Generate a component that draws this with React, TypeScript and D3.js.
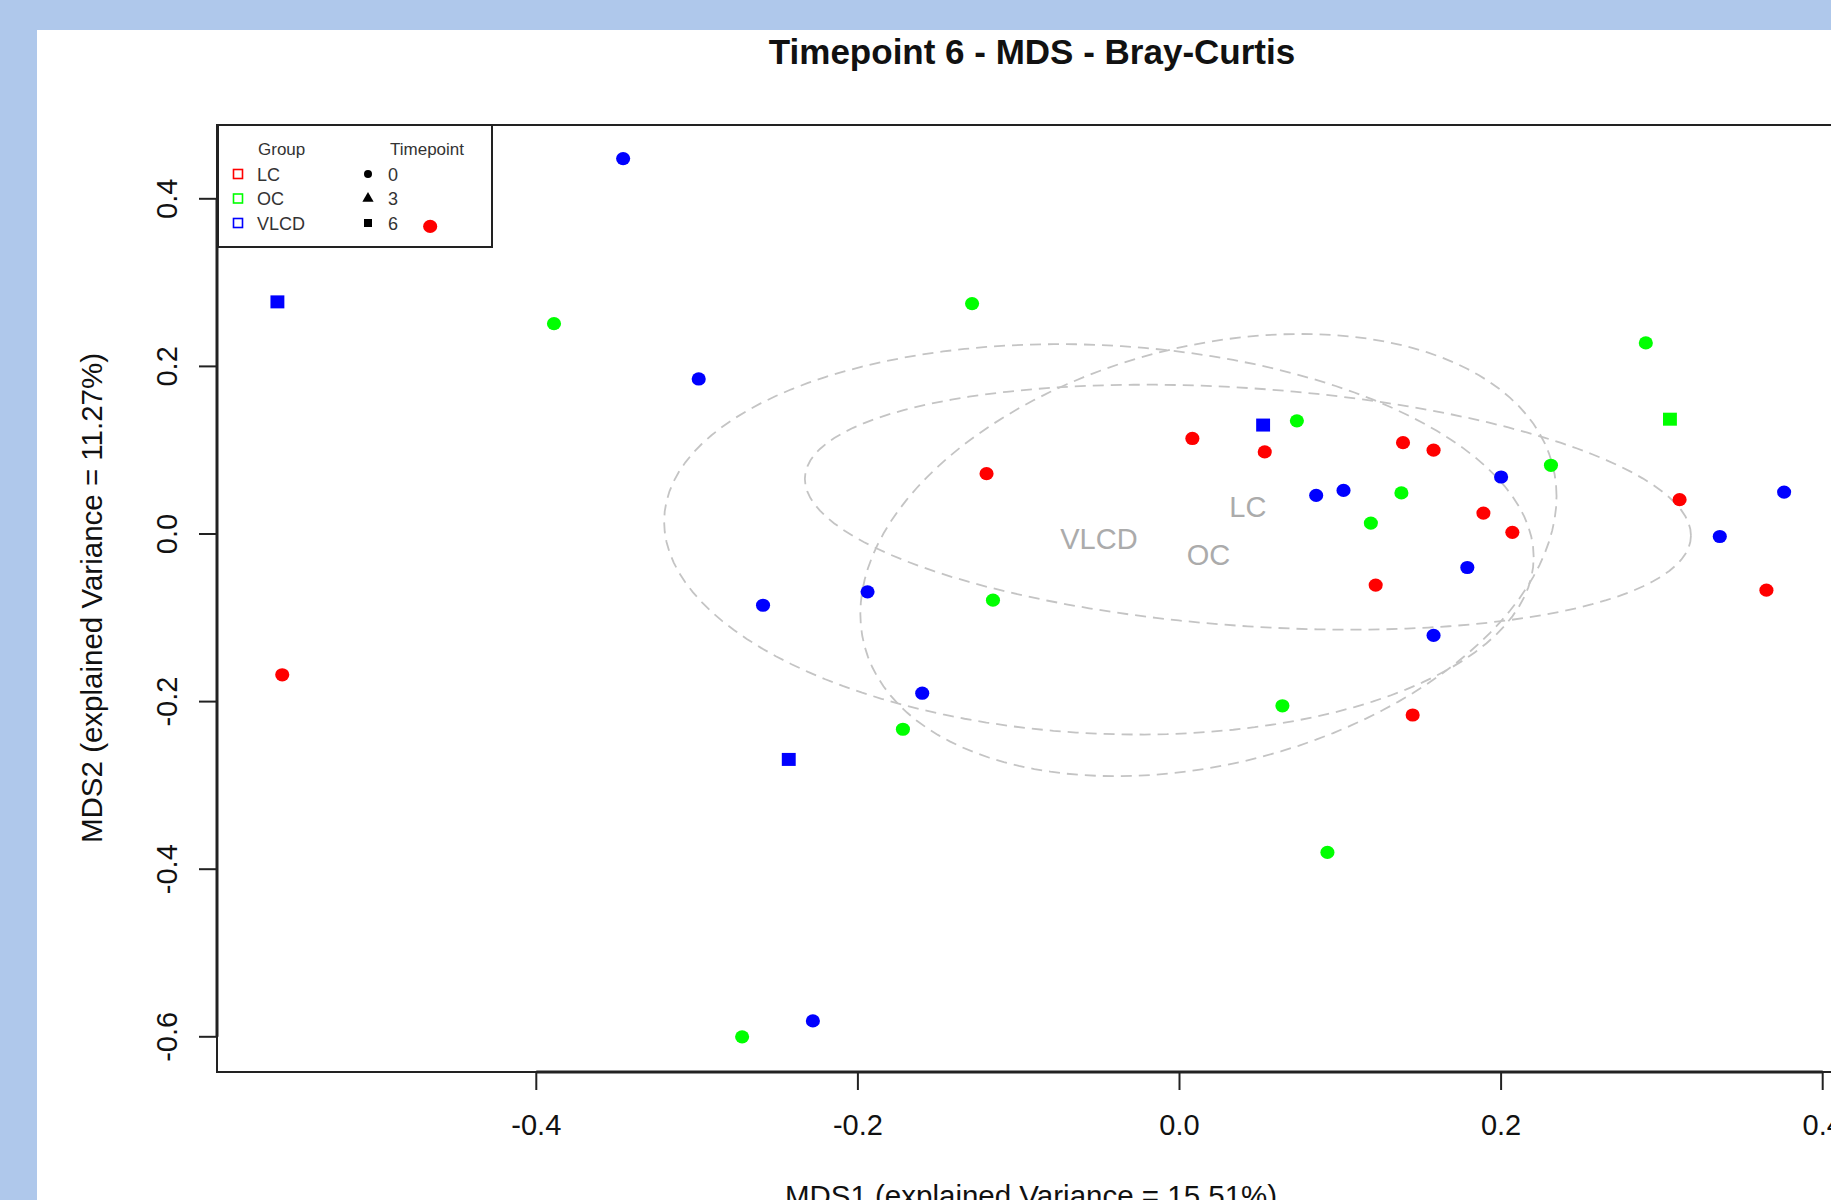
import React from 'react';
import * as d3 from 'd3';

const W = 1831;
const H = 1200;
const FONT = 'Liberation Sans, Arial, Helvetica, sans-serif';

const groupNames = ['LC', 'OC', 'VLCD'];
const groupColors = ['#ff0000', '#00ff00', '#0000ff'];
const timepointNames = ['0', '3', '6'];

// MDS1 / MDS2 per sample
const lcMds1 = [-0.466, 0.008, 0.053, 0.139, 0.158, -0.12, 0.311, 0.189, 0.207, 0.365, 0.122, -0.558, 0.145];
const lcMds2 = [0.367, 0.114, 0.098, 0.109, 0.1, 0.072, 0.041, 0.025, 0.002, -0.067, -0.061, -0.168, -0.216];
const lcTime = [0, 0, 0, 0, 0, 0, 0, 0, 0, 0, 0, 0, 0];

const ocMds1 = [-0.389, -0.129, 0.29, 0.305, 0.073, 0.231, 0.138, 0.119, -0.116, 0.064, -0.172, 0.092, -0.272];
const ocMds2 = [0.251, 0.275, 0.228, 0.137, 0.135, 0.082, 0.049, 0.013, -0.079, -0.205, -0.233, -0.38, -0.6];
const ocTime = [0, 0, 0, 6, 0, 0, 0, 0, 0, 0, 0, 0, 0];

const vlcdMds1 = [-0.346, -0.561, -0.299, 0.052, 0.2, 0.376, 0.085, 0.102, 0.336, 0.179, 0.158, -0.259, -0.194, -0.16, -0.243, -0.228];
const vlcdMds2 = [0.448, 0.277, 0.185, 0.13, 0.068, 0.05, 0.046, 0.052, -0.003, -0.04, -0.121, -0.085, -0.069, -0.19, -0.269, -0.581];
const vlcdTime = [0, 6, 0, 6, 0, 0, 0, 0, 0, 0, 0, 0, 0, 0, 6, 0];

const xTicks = [-0.4, -0.2, 0.0, 0.2, 0.4];
const yTicks = [0.4, 0.2, 0.0, -0.2, -0.4, -0.6];

const groups = [
  { name: groupNames[0], color: groupColors[0], xs: lcMds1, ys: lcMds2, ts: lcTime },
  { name: groupNames[1], color: groupColors[1], xs: ocMds1, ys: ocMds2, ts: ocTime },
  { name: groupNames[2], color: groupColors[2], xs: vlcdMds1, ys: vlcdMds2, ts: vlcdTime },
];

// plot box
const box = { left: 217, top: 125, right: 1845, bottom: 1072 };

const x = d3.scaleLinear().domain([-0.4, 0.4]).range([536.3, 1822.7]);
const y = d3.scaleLinear().domain([0.4, -0.6]).range([198.8, 1036.8]);

const dotCircle = d3.symbol().type(d3.symbolCircle).size(Math.PI * 6.6 * 6.6)();
const dotSquare = d3.symbol().type(d3.symbolSquare).size(13 * 13)();
const legendShapes = [
  d3.symbol().type(d3.symbolCircle).size(Math.PI * 4 * 4)(),
  d3.symbol().type(d3.symbolTriangle).size(55)(),
  d3.symbol().type(d3.symbolSquare).size(64)(),
];

// 1-sd ellipse of each group (like vegan::ordiellipse kind = "sd")
function sdEllipse(xs: number[], ys: number[]) {
  const n = xs.length;
  const mx = d3.mean(xs) as number;
  const my = d3.mean(ys) as number;
  let sxx = 0, sxy = 0, syy = 0;
  for (let i = 0; i < n; i++) {
    sxx += (xs[i] - mx) * (xs[i] - mx);
    sxy += (xs[i] - mx) * (ys[i] - my);
    syy += (ys[i] - my) * (ys[i] - my);
  }
  sxx /= n - 1; sxy /= n - 1; syy /= n - 1;
  const l11 = Math.sqrt(sxx);
  const l21 = sxy / l11;
  const l22 = Math.sqrt(syy - l21 * l21);
  const pts = d3.range(0, 120).map(i => {
    const t = (2 * Math.PI * i) / 120;
    return [mx + l11 * Math.cos(t), my + l21 * Math.cos(t) + l22 * Math.sin(t)] as [number, number];
  });
  const path = d3.line<[number, number]>()
    .x(p => x(p[0]))
    .y(p => y(p[1]))
    .curve(d3.curveLinearClosed)(pts);
  return { path, cx: mx, cy: my };
}

export default function App() {
  const ellipses = groups.map(g => ({ ...sdEllipse(g.xs, g.ys), name: g.name }));

  return (
    <svg width={W} height={H} style={{ position: 'absolute', left: 0, top: 0 }} fontFamily={FONT}>
      <rect x={0} y={0} width={W} height={H} fill="#afc8eb" />
      <rect x={37} y={30} width={W - 37} height={H - 30} fill="#ffffff" />

      <text x={1032} y={64} textAnchor="middle" fontSize={35} fontWeight="bold" fill="#111">
        Timepoint 6 - MDS - Bray-Curtis
      </text>

      {/* group ellipses */}
      {ellipses.map(e => (
        <path key={e.name} d={e.path || ''} fill="none" stroke="#c4c4c4" strokeWidth={1.8} strokeDasharray="11 7" />
      ))}
      {ellipses.map(e => (
        <text key={'l' + e.name} x={x(e.cx)} y={y(e.cy)} textAnchor="middle" dominantBaseline="central"
          fontSize={29} fill="#ababab">{e.name}</text>
      ))}

      {/* box */}
      <rect x={box.left} y={box.top} width={box.right - box.left} height={box.bottom - box.top}
        fill="none" stroke="#222" strokeWidth={2} />

      {/* x axis */}
      <line x1={x(xTicks[0])} x2={x(xTicks[xTicks.length - 1])} y1={box.bottom} y2={box.bottom} stroke="#222" strokeWidth={3} />
      {xTicks.map(v => (
        <g key={'x' + v}>
          <line x1={x(v)} x2={x(v)} y1={box.bottom} y2={box.bottom + 18} stroke="#222" strokeWidth={2} />
          <text x={x(v)} y={1135} textAnchor="middle" fontSize={29} fill="#111">{v.toFixed(1)}</text>
        </g>
      ))}
      <text x={1031} y={1206} textAnchor="middle" fontSize={29.5} fill="#111">
        MDS1 (explained Variance = 15.51%)
      </text>

      {/* y axis */}
      <line x1={box.left} x2={box.left} y1={y(yTicks[0])} y2={y(yTicks[yTicks.length - 1])} stroke="#222" strokeWidth={3} />
      {yTicks.map(v => (
        <g key={'y' + v}>
          <line x1={box.left - 18} x2={box.left} y1={y(v)} y2={y(v)} stroke="#222" strokeWidth={2} />
          <text transform={`translate(177,${y(v)}) rotate(-90)`} textAnchor="middle" fontSize={29} fill="#111">
            {v.toFixed(1)}
          </text>
        </g>
      ))}
      <text transform={`translate(102,598) rotate(-90)`} textAnchor="middle" fontSize={29.5} fill="#111">
        MDS2 (explained Variance = 11.27%)
      </text>

      {/* legend */}
      <g>
        <rect x={218} y={125} width={274} height={122} fill="none" stroke="#222" strokeWidth={2} />
        <text x={258} y={155} fontSize={17} fill="#333">Group</text>
        <text x={390} y={155} fontSize={17} fill="#333">Timepoint</text>
        {groupNames.map((n, i) => (
          <g key={'lg' + n}>
            <rect x={238 - 4.5} y={174 + i * 24.5 - 4.5} width={9} height={9} fill="none"
              stroke={groupColors[i]} strokeWidth={1.6} />
            <text x={257} y={174 + i * 24.5 + 6.5} fontSize={18} fill="#333">{n}</text>
          </g>
        ))}
        {timepointNames.map((n, i) => (
          <g key={'lt' + n}>
            <path d={legendShapes[i] || ''} transform={`translate(368,${174 + i * 24.5})`} fill="#000" />
            <text x={388} y={174 + i * 24.5 + 6.5} fontSize={18} fill="#333">{n}</text>
          </g>
        ))}
      </g>

      {/* samples */}
      {groups.map(g => g.xs.map((v, i) => (
        <path key={g.name + i} d={(g.ts[i] === 6 ? dotSquare : dotCircle) || ''}
          transform={`translate(${x(v)},${y(g.ys[i])}) scale(1.07,1)`} fill={g.color} />
      )))}
    </svg>
  );
}
